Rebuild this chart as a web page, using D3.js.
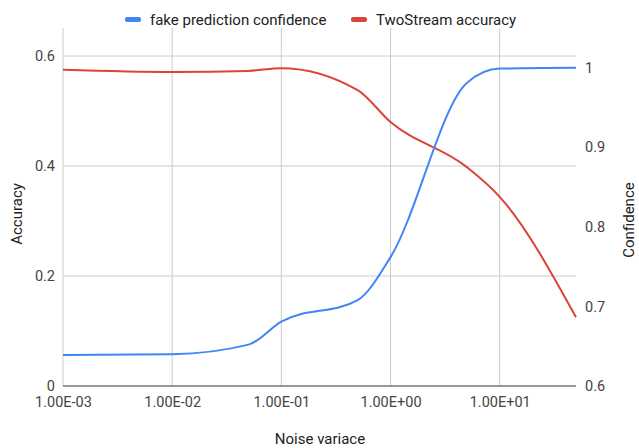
<!DOCTYPE html>
<html>
<head>
<meta charset="utf-8">
<script src="https://cdn.jsdelivr.net/npm/d3@7"></script>
<style>
  body { margin: 0; background: #fff; }
  svg text { font-family: Roboto, "Noto Sans", sans-serif; }
</style>
</head>
<body>
<div id="chart"></div>
<script>
// noise variance values (x, log scale)
const noise = [0.001, 0.01, 0.05, 0.1, 0.5, 1, 5, 10, 50];
// fake prediction confidence (right axis)
const confidence = [0.639, 0.640, 0.652, 0.681, 0.708, 0.762, 0.981, 0.999, 1.0];
// TwoStream accuracy (left axis)
const accuracy = [0.575, 0.571, 0.573, 0.578, 0.538, 0.48, 0.398, 0.344, 0.125];

const xTicks = [0.001, 0.01, 0.1, 1, 10];
const xTickLabels = ["1.00E-03", "1.00E-02", "1.00E-01", "1.00E+00", "1.00E+01"];
const leftTicks = [0, 0.2, 0.4, 0.6];
const rightTicks = [0.6, 0.7, 0.8, 0.9, 1];

const W = 639, H = 448;
const margin = {top: 28, right: 63, bottom: 62, left: 63};
const width = W - margin.left - margin.right;
const height = H - margin.top - margin.bottom;

const svg = d3.select("#chart").append("svg")
    .attr("width", W)
    .attr("height", H);

const g = svg.append("g")
    .attr("transform", "translate(" + margin.left + "," + margin.top + ")");

const xScale = d3.scaleLog().domain([0.001, 50]).range([0, width]);
const yLeft = d3.scaleLinear().domain([0, 0.651]).range([height, 0]);
const yRight = d3.scaleLinear().domain([0.6, 1.05]).range([height, 0]);

// gridlines
g.append("g").selectAll("line")
    .data(leftTicks.filter(d => d > 0))
    .join("line")
    .attr("x1", 0).attr("x2", width)
    .attr("y1", d => yLeft(d)).attr("y2", d => yLeft(d))
    .attr("stroke", "#cccccc").attr("stroke-width", 1);

g.append("g").selectAll("line")
    .data(xTicks)
    .join("line")
    .attr("x1", d => xScale(d)).attr("x2", d => xScale(d))
    .attr("y1", 0).attr("y2", height)
    .attr("stroke", "#cccccc").attr("stroke-width", 1);

// baseline
g.append("line")
    .attr("x1", 0).attr("x2", width)
    .attr("y1", height).attr("y2", height)
    .attr("stroke", "#333").attr("stroke-width", 1);

// axes
const xAxis = g.append("g")
    .attr("transform", "translate(0," + height + ")")
    .call(d3.axisBottom(xScale).tickValues(xTicks)
        .tickFormat((d, i) => xTickLabels[i]).tickSize(0).tickPadding(11));
const yAxisL = g.append("g")
    .call(d3.axisLeft(yLeft).tickValues(leftTicks)
        .tickFormat(d3.format("~g")).tickSize(0).tickPadding(8));
const yAxisR = g.append("g")
    .attr("transform", "translate(" + width + ",0)")
    .call(d3.axisRight(yRight).tickValues(rightTicks)
        .tickFormat(d3.format("~g")).tickSize(0).tickPadding(9));

[xAxis, yAxisL, yAxisR].forEach(a => {
    a.select(".domain").remove();
    a.selectAll("text").attr("font-size", 14.5).attr("fill", "#444")
        .attr("font-family", "Roboto, sans-serif");
});

// lines
const lineAcc = d3.line()
    .x((d, i) => xScale(noise[i]))
    .y(d => yLeft(d))
    .curve(d3.curveMonotoneX);
const lineConf = d3.line()
    .x((d, i) => xScale(noise[i]))
    .y(d => yRight(d))
    .curve(d3.curveMonotoneX);

g.append("path")
    .datum(accuracy)
    .attr("fill", "none")
    .attr("stroke", "#db4437")
    .attr("stroke-width", 2)
    .attr("d", lineAcc);

g.append("path")
    .datum(confidence)
    .attr("fill", "none")
    .attr("stroke", "#4285f4")
    .attr("stroke-width", 2)
    .attr("d", lineConf);

// axis titles
svg.append("text")
    .attr("x", 320)
    .attr("y", 444)
    .attr("text-anchor", "middle")
    .attr("font-size", 15)
    .attr("fill", "#222")
    .text("Noise variace");

svg.append("text")
    .attr("transform", "translate(22,214) rotate(-90)")
    .attr("text-anchor", "middle")
    .attr("font-size", 15)
    .attr("fill", "#222")
    .text("Accuracy");

svg.append("text")
    .attr("transform", "translate(634,220) rotate(-90)")
    .attr("text-anchor", "middle")
    .attr("font-size", 15)
    .attr("fill", "#222")
    .text("Confidence");

// legend
const legendItems = [
    {label: "fake prediction confidence", color: "#4285f4", x: 125},
    {label: "TwoStream accuracy", color: "#db4437", x: 351}
];
const legend = svg.append("g");
legendItems.forEach(item => {
    legend.append("rect")
        .attr("x", item.x).attr("y", 17)
        .attr("width", 16).attr("height", 5)
        .attr("rx", 2)
        .attr("fill", item.color);
    legend.append("text")
        .attr("x", item.x + 25).attr("y", 25)
        .attr("font-size", 15)
        .attr("fill", "#222")
        .text(item.label);
});
</script>
</body>
</html>
